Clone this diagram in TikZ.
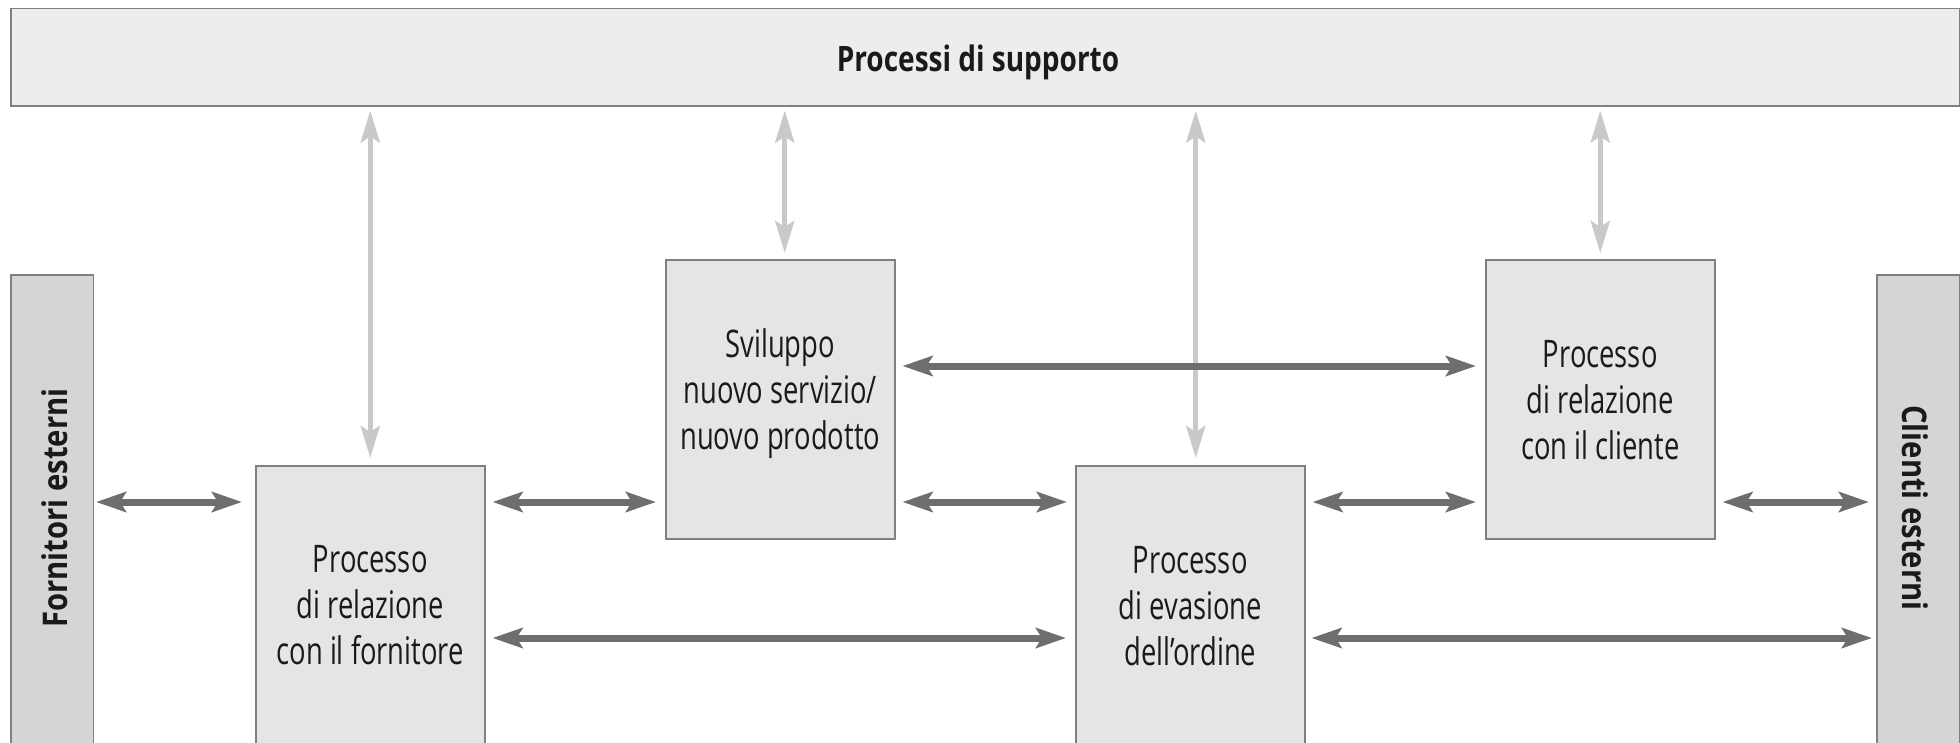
\documentclass[tikz,border=0pt]{standalone}
\usepackage{fontspec}
\setmainfont{Open Sans}
\newfontfamily\proccond{Open Sans}[FakeStretch=0.72]
\newfontfamily\headcond{Open Sans}[FakeStretch=0.8]
\newfontfamily\sidecond{Open Sans}[FakeStretch=0.86]
\usetikzlibrary{arrows.meta,calc}
\definecolor{barfill}{HTML}{EDEDED}
\definecolor{sidefill}{HTML}{D4D5D5}
\definecolor{procfill}{HTML}{E4E5E4}
\definecolor{edgegray}{HTML}{808080}
\definecolor{darkarrow}{HTML}{6E6E6E}
\definecolor{lightarrow}{HTML}{C8C9C9}
\definecolor{inktext}{HTML}{1A1A1A}

\begin{document}
\begin{tikzpicture}[x=1pt,y=-1pt,
  panel/.style={draw=edgegray, line width=1.5pt, inner sep=0pt, anchor=north west},
  procbox/.style={panel, fill=procfill, minimum width=229pt},
  sidebar/.style={panel, fill=sidefill, minimum width=82.5pt, minimum height=500pt},
  proctext/.style={inner sep=0pt, anchor=north, align=center, text=inktext,
    font=\proccond\fontsize{38}{46}\selectfont},
  sidetext/.style={inner sep=0pt, anchor=base, text=inktext,
    font=\sidecond\bfseries\fontsize{34}{40}\selectfont},
  darr/.style={draw=darkarrow, line width=7pt,
    {Stealth[length=30pt,width=20pt,inset=6pt]}-{Stealth[length=30pt,width=20pt,inset=6pt]}},
  larr/.style={draw=lightarrow, line width=5pt,
    {Stealth[length=32pt,width=19pt,inset=6pt]}-{Stealth[length=32pt,width=19pt,inset=6pt]}}
]
\useasboundingbox (0,0) rectangle (1960,742);

% support processes banner
\node[panel, fill=barfill, minimum width=1949pt, minimum height=97.5pt] (top) at (10,7.5) {};
\node[inner sep=0pt, anchor=base, text=inktext,
  font=\headcond\bfseries\fontsize{35}{40}\selectfont] (toptext) at (978,71) {Processi di supporto};

% external parties
\node[sidebar] (fbar) at (10,274) {};
\node[sidebar, minimum width=83pt] (cbar) at (1876,274) {};
\node[sidetext, rotate=90] (fbartext) at (67,508) {Fornitori esterni};
\node[sidetext, rotate=-90] (cbartext) at (1902,508) {Clienti esterni};

% core processes
\node[procbox, minimum height=320pt] (fbox) at (255,465) {};
\node[procbox, minimum height=279pt] (svil) at (665,259) {};
\node[procbox, minimum height=320pt] (evas) at (1075,465) {};
\node[procbox, minimum height=279pt] (cli) at (1485,259) {};

\node[proctext] (fboxtext) at (fbox.north |- 0,545) {Processo\\di relazione\\con il fornitore};
\node[proctext] (sviltext) at (svil.north |- 0,328) {Sviluppo\\nuovo servizio/\\nuovo prodotto};
\node[proctext] (evastext) at (evas.north |- 0,546) {Processo\\di evasione\\dell’ordine};
\node[proctext] (clitext) at (cli.north |- 0,340) {Processo\\di relazione\\con il cliente};

% links to the support processes
\draw[larr] ([yshift=-4pt]top.south -| fbox.north) -- ([yshift=7pt]fbox.north);
\draw[larr] ([xshift=4.5pt,yshift=-4pt]svil.north |- top.south) -- ([xshift=4.5pt,yshift=6pt]svil.north);
\draw[larr] ([xshift=5.5pt,yshift=-4pt]evas.north |- top.south) -- ([xshift=5.5pt,yshift=7pt]evas.north);
\draw[larr] ([yshift=-4pt]cli.north |- top.south) -- ([yshift=6pt]cli.north);

% flows between processes
\coordinate (rowA) at (0,366);
\coordinate (rowB) at (0,502);
\coordinate (rowC) at (0,638);

\draw[darr] ([xshift=2pt]fbar.east |- rowB) -- ([xshift=-13pt]fbox.west |- rowB);
\draw[darr] ([xshift=7pt]fbox.east |- rowB) -- ([xshift=-9pt]svil.west |- rowB);
\draw[darr] ([xshift=7pt]svil.east |- rowB) -- ([xshift=-8pt]evas.west |- rowB);
\draw[darr] ([xshift=7pt]evas.east |- rowB) -- ([xshift=-9pt]cli.west |- rowB);
\draw[darr] ([xshift=7pt]cli.east |- rowB) -- ([xshift=-7pt]cbar.west |- rowB);

\draw[darr] ([xshift=7pt]svil.east |- rowA) -- ([xshift=-9pt]cli.west |- rowA);
\draw[darr] ([xshift=7pt]fbox.east |- rowC) -- ([xshift=-9pt]evas.west |- rowC);
\draw[darr] ([xshift=6pt]evas.east |- rowC) -- ([xshift=-4pt]cbar.west |- rowC);
\end{tikzpicture}
\end{document}
